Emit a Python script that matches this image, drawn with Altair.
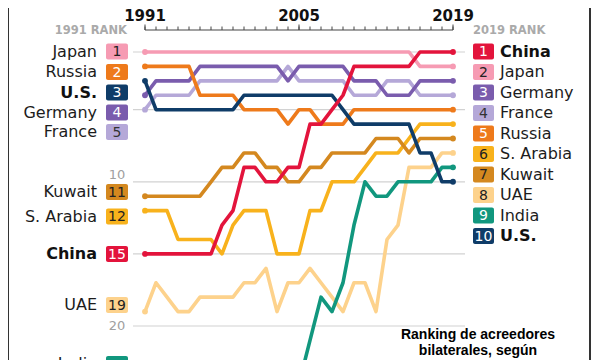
import altair as alt
import pandas as pd

# ---------------- data ----------------
years = [1991, 1992, 1993, 1994, 1995, 1996, 1997, 1998, 1999, 2000,
         2001, 2002, 2003, 2004, 2005, 2006, 2007, 2008, 2009, 2010,
         2011, 2012, 2013, 2014, 2015, 2016, 2017, 2018, 2019]

japan = [1, 1, 1, 1, 1, 1, 1, 1, 1, 1, 1, 1, 1, 1, 1, 1, 1, 1, 1, 1,
         1, 1, 1, 1, 1, 2, 2, 2, 2]
china = [15, 15, 15, 15, 15, 15, 15, 13, 12, 9, 9, 10, 10, 9, 9, 6, 6, 5, 4, 2,
         2, 2, 2, 2, 2, 1, 1, 1, 1]
russia = [2, 2, 2, 2, 2, 4, 4, 4, 4, 5, 5, 5, 5, 6, 5, 5, 6, 6, 6, 5,
          5, 5, 5, 5, 5, 5, 5, 5, 5]
usa = [3, 5, 5, 5, 5, 5, 5, 5, 5, 4, 4, 4, 4, 4, 4, 4, 4, 4, 5, 6,
       6, 6, 6, 6, 6, 8, 8, 10, 10]
germany = [4, 3, 3, 3, 3, 2, 2, 2, 2, 2, 2, 2, 2, 3, 2, 2, 2, 2, 2, 3,
           3, 3, 4, 4, 4, 3, 3, 3, 3]
france = [5, 4, 4, 4, 4, 3, 3, 3, 3, 3, 3, 3, 3, 2, 3, 3, 3, 3, 3, 4,
          4, 4, 3, 3, 3, 4, 4, 4, 4]
kuwait = [11, 11, 11, 11, 11, 11, 10, 9, 9, 8, 8, 9, 9, 10, 10, 9, 9, 8, 8, 8,
          8, 7, 7, 7, 8, 7, 7, 7, 7]
saudi = [12, 12, 12, 14, 14, 14, 14, 15, 13, 12, 12, 12, 15, 15, 15, 12, 12, 10, 10, 10,
         9, 8, 8, 8, 7, 6, 6, 6, 6]
uae = [19, 17, 18, 19, 19, 18, 18, 18, 18, 17, 17, 16, 19, 17, 17, 16, 17, 18, 19, 17,
       17, 19, 14, 13, 9, 9, 9, 8, 8]
india = [None, None, None, None, None, None, None, None, None, None,
         None, None, None, None, 24, 21, 18, 19, 17, 13,
         10, 11, 11, 10, 10, 10, 10, 9, 9]

series = {
    "Japan": japan, "China": china, "Russia": russia, "U.S.": usa,
    "Germany": germany, "France": france, "Kuwait": kuwait,
    "S. Arabia": saudi, "UAE": uae, "India": india,
}

grid_ranks = [1, 5, 10, 15, 20]
year_labels = [1991, 2005, 2019]
major_ticks = [1991, 2005, 2019]
bold_names = ["China", "U.S."]
caption = ["Ranking de acreedores", "bilaterales, según"]

# ---------------- style ----------------
colors = {
    "Japan": "#f69bb3", "China": "#e3143c", "Russia": "#ee7a1b",
    "U.S.": "#0f3c68", "Germany": "#7a5cad", "France": "#b5a8d8",
    "Kuwait": "#d4881f", "S. Arabia": "#f8b21c", "UAE": "#fdd28c",
    "India": "#11977e",
}
num_colors = {
    "Japan": "#222222", "China": "#ffffff", "Russia": "#ffffff",
    "U.S.": "#ffffff", "Germany": "#ffffff", "France": "#333333",
    "Kuwait": "#222222", "S. Arabia": "#222222", "UAE": "#222222",
    "India": "#ffffff",
}
draw_order = ["UAE", "India", "S. Arabia", "Kuwait", "France", "Germany",
              "Russia", "U.S.", "Japan", "China"]
FONT = "DejaVu Sans"

xs = alt.Scale(domain=[1991, 2019], range=[137, 445], nice=False, zero=False)
ys = alt.Scale(domain=[1, 20], range=[44, 318], nice=False, zero=False)
X = alt.X("year:Q", scale=xs, axis=None)
Y = alt.Y("rank:Q", scale=ys, axis=None)

one = pd.DataFrame({"k": [0]})
layers = []

# gridlines
layers.append(
    alt.Chart(pd.DataFrame({"rank": grid_ranks})).mark_rule(color="#d2d2d2", strokeWidth=1.2)
    .encode(x=alt.value(125), x2=alt.value(457), y=Y)
)
layers.append(
    alt.Chart(pd.DataFrame({"rank": [10], "t": ["10"]})).mark_text(
        font=FONT, fontSize=13, color="#a0a0a0", align="center", baseline="middle", dy=-7)
    .encode(x=alt.value(109), y=Y, text="t:N")
)
layers.append(
    alt.Chart(pd.DataFrame({"rank": [20], "t": ["20"]})).mark_text(
        font=FONT, fontSize=13, color="#a0a0a0", align="center", baseline="middle")
    .encode(x=alt.value(109), y=Y, text="t:N")
)

# top year axis
layers.append(
    alt.Chart(pd.DataFrame({"year": [years[0]], "year2": [years[-1]]})).mark_rule(color="#444", strokeWidth=1)
    .encode(x=X, x2="year2:Q", y=alt.value(22))
)
layers.append(
    alt.Chart(pd.DataFrame({"year": years})).mark_rule(color="#444", strokeWidth=1)
    .encode(x=X, y=alt.value(18.5), y2=alt.value(22))
)
layers.append(
    alt.Chart(pd.DataFrame({"year": major_ticks})).mark_rule(color="#444", strokeWidth=1)
    .encode(x=X, y=alt.value(16.5), y2=alt.value(22))
)
layers.append(
    alt.Chart(pd.DataFrame({"year": year_labels, "t": [str(y) for y in year_labels]})).mark_text(
        font=FONT, fontSize=15, fontWeight="bold", color="#111", align="center", baseline="bottom")
    .encode(x=X, y=alt.value(16), text="t:N")
)

# lines and dots
for name in draw_order:
    vals = series[name]
    df = pd.DataFrame({"year": years, "rank": vals}).dropna()
    c = colors[name]
    layers.append(
        alt.Chart(df).mark_line(color=c, strokeWidth=3.6, strokeCap="round", strokeJoin="round")
        .encode(x=X, y=Y)
    )
    ends = df[(df["year"] == years[-1]) | ((df["year"] == years[0]))]
    layers.append(
        alt.Chart(ends).mark_circle(color=c, size=34, opacity=1).encode(x=X, y=Y)
    )

# label tables
left_order = ["Japan", "Russia", "U.S.", "Germany", "France", "Kuwait",
              "S. Arabia", "China", "UAE", "India"]
left_page_y = [51.5, 72, 92.5, 112.5, 132, 192, 216.5, 254, 305, 364]
right_order = sorted(series.keys(), key=lambda n: series[n][-1])
right_page_y = [51.5 + 20.5 * i for i in range(len(right_order))]


def label_df(order, page_y, idx):
    rows = []
    for n, py in zip(order, page_y):
        v = series[n][idx]
        rows.append({
            "name": n,
            "num": "" if v is None else str(int(v)),
            "yc": py - 8, "y0": py - 8 - 8, "y1": py - 8 + 8,
            "fill": colors[n], "numcol": num_colors[n],
        })
    return pd.DataFrame(rows)


def label_layers(df, box_x0, box_x1, name_x, align):
    out = []
    YC = alt.Y("yc:Q", scale=None)
    out.append(
        alt.Chart(df).mark_rect(cornerRadius=2)
        .encode(x=alt.value(box_x0), x2=alt.value(box_x1),
                y=alt.Y("y0:Q", scale=None), y2=alt.Y2("y1:Q"),
                color=alt.Color("fill:N", scale=None))
    )
    out.append(
        alt.Chart(df).mark_text(font=FONT, fontSize=14, align="center", baseline="middle", dy=0.5)
        .encode(x=alt.value((box_x0 + box_x1) / 2), y=YC, text="num:N",
                color=alt.Color("numcol:N", scale=None))
    )
    normal = df[~df["name"].isin(bold_names)]
    bold = df[df["name"].isin(bold_names)]
    out.append(
        alt.Chart(normal).mark_text(font=FONT, fontSize=16, align=align, baseline="middle", color="#1c1c1c")
        .encode(x=alt.value(name_x), y=YC, text="name:N")
    )
    out.append(
        alt.Chart(bold).mark_text(font=FONT, fontSize=16, fontWeight="bold", align=align,
                                  baseline="middle", color="#111")
        .encode(x=alt.value(name_x), y=YC, text="name:N")
    )
    return out


layers += label_layers(label_df(left_order, left_page_y, 0), 98, 120, 89, "right")
layers += label_layers(label_df(right_order, right_page_y, -1), 465, 486, 492, "left")

# headers
layers.append(
    alt.Chart(one).mark_text(text="1991 RANK", font=FONT, fontSize=11.5, fontWeight="bold",
                             color="#aaaaaa", align="right", baseline="middle")
    .encode(x=alt.value(119), y=alt.value(23))
)
layers.append(
    alt.Chart(one).mark_text(text="2019 RANK", font=FONT, fontSize=11.5, fontWeight="bold",
                             color="#aaaaaa", align="left", baseline="middle")
    .encode(x=alt.value(465), y=alt.value(23))
)

# caption
layers.append(
    alt.Chart(one).mark_text(text=caption,
                             font="Liberation Sans", fontSize=14, fontWeight="bold",
                             color="#000", align="center", baseline="middle", lineHeight=16)
    .encode(x=alt.value(470), y=alt.value(327))
)

# frame borders
layers.append(
    alt.Chart(one).mark_rule(color="#333", strokeWidth=2)
    .encode(x=alt.value(0), y=alt.value(0), y2=alt.value(352))
)
layers.append(
    alt.Chart(one).mark_rule(color="#333", strokeWidth=2)
    .encode(x=alt.value(582), y=alt.value(0), y2=alt.value(352))
)

chart = alt.layer(*layers).properties(
    width=584, height=352, autosize="none", padding=0
).configure_view(stroke=None)

chart.save("out.html", embed_options={"renderer": "svg", "actions": False})
